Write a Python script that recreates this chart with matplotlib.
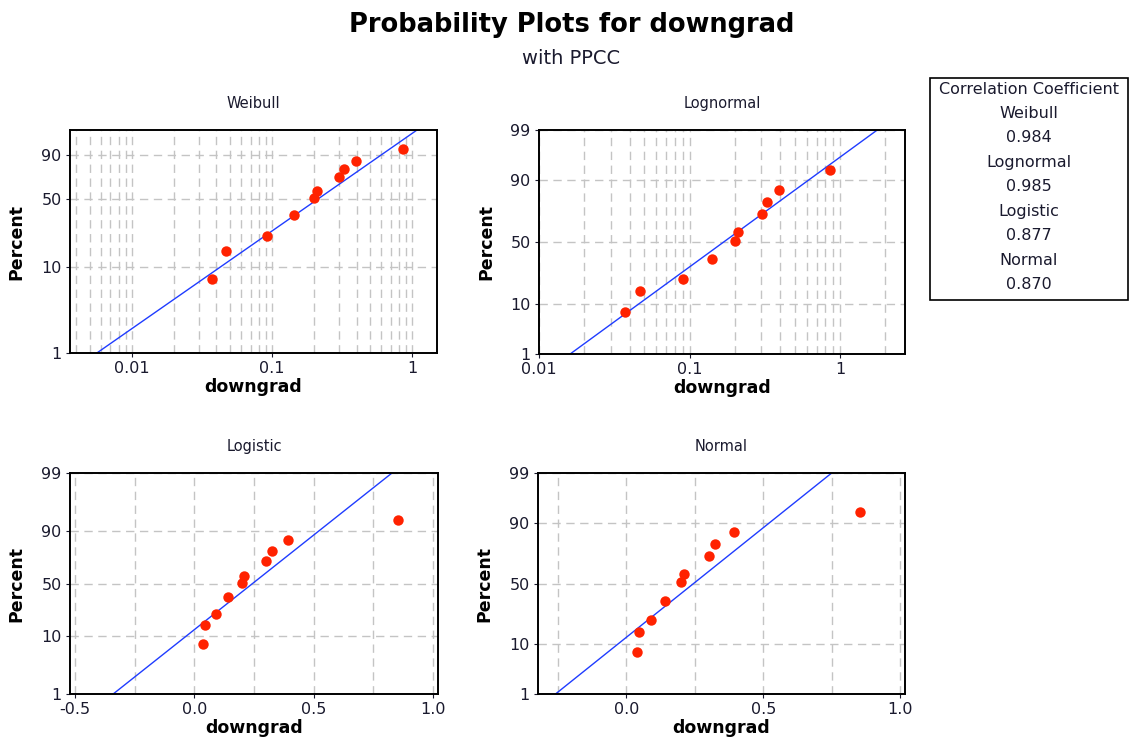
import numpy as np
import matplotlib.pyplot as plt
from matplotlib.patches import Rectangle
from matplotlib.ticker import FixedLocator, NullFormatter, FixedFormatter
from statistics import NormalDist

# data
downgrad = np.array([0.037, 0.047, 0.091, 0.142, 0.200, 0.209, 0.301, 0.325, 0.395, 0.855])
percent = np.array([7.4, 15.3, 22.0, 36.0, 51.0, 58.0, 71.7, 79.5, 86.0, 93.3])

# fitted lines: x at the two end percents
fit_pct = [1, 99]
weibull_fit = [0.0056, 1.08]
lognormal_fit = [0.0161, 1.766]
logistic_fit = [-0.340, 0.829]
normal_fit = [-0.259, 0.750]

dist_names = ['Weibull', 'Lognormal', 'Logistic', 'Normal']
ppcc = ['0.984', '0.985', '0.877', '0.870']

pct_ticks = [1, 10, 50, 90, 99]

_nd = NormalDist()


def _p(v):
    return np.clip(np.asarray(v, float) / 100.0, 1e-9, 1 - 1e-9)


def norm_fwd(v):
    return np.vectorize(_nd.inv_cdf, otypes=[float])(_p(v))


def norm_inv(z):
    return 100 * np.vectorize(_nd.cdf, otypes=[float])(np.asarray(z, float))


def logis_fwd(v):
    p = _p(v)
    return np.log(p / (1 - p))


def logis_inv(z):
    return 100 / (1 + np.exp(-np.asarray(z, float)))


def weib_fwd(v):
    p = _p(v)
    return np.log(-np.log(1 - p))


def weib_inv(z):
    return 100 * (1 - np.exp(-np.exp(np.asarray(z, float))))


txt = '#1a1a2e'
grid_c = '#c4c4c4'
W, H = 1130, 742
fig = plt.figure(figsize=(W / 100, H / 100), dpi=100)
plt.rcParams['font.family'] = 'DejaVu Sans'


def px_axes(l, t, r, b):
    return fig.add_axes([l / W, 1 - b / H, (r - l) / W, (b - t) / H])


def style(ax, name, funcs, ticks):
    ax.set_yscale('function', functions=funcs)
    ax.set_ylim(1, 99)
    ax.yaxis.set_major_locator(FixedLocator(ticks))
    ax.yaxis.set_major_formatter(FixedFormatter([str(t) for t in ticks]))
    ax.yaxis.set_minor_locator(FixedLocator([]))
    ax.grid(True, which='major', axis='y', color=grid_c, ls=(0, (6, 4)), lw=1)
    ax.grid(True, which='both', axis='x', color=grid_c, ls=(0, (6, 4)), lw=1)
    ax.tick_params(which='major', length=3, pad=3, labelsize=11.5, colors=txt)
    ax.tick_params(which='minor', length=0)
    for s in ax.spines.values():
        s.set_linewidth(1.4)
    ax.set_axisbelow(True)
    ax.text(0.5, 1.12, name, transform=ax.transAxes, ha='center', va='center',
            fontsize=10.5, color=txt)
    ax.text(-0.145, 0.5, 'Percent', transform=ax.transAxes, rotation=90,
            ha='center', va='center', fontsize=12.5, weight='bold')
    ax.set_xlabel('downgrad', fontsize=12.5, weight='bold', labelpad=1)


def draw(ax, fit):
    ax.plot(fit, fit_pct, color='#1f3cff', lw=1)
    ax.plot(downgrad, percent, 'o', color='#ff2200', ms=7.5, mec='none')


# Weibull
ax = px_axes(70, 130, 437, 353)
ax.set_xscale('log')
ax.set_xlim(0.0036, 1.5)
style(ax, 'Weibull', (weib_fwd, weib_inv), [1, 10, 50, 90])
ax.xaxis.set_major_locator(FixedLocator([0.01, 0.1, 1]))
ax.xaxis.set_major_formatter(FixedFormatter(['0.01', '0.1', '1']))
ax.xaxis.set_minor_formatter(NullFormatter())
draw(ax, weibull_fit)

# Lognormal
ax = px_axes(539, 130, 905, 354)
ax.set_xscale('log')
ax.set_xlim(0.01, 2.7)
style(ax, 'Lognormal', (norm_fwd, norm_inv), pct_ticks)
ax.xaxis.set_major_locator(FixedLocator([0.01, 0.1, 1]))
ax.xaxis.set_major_formatter(FixedFormatter(['0.01', '0.1', '1']))
ax.xaxis.set_minor_formatter(NullFormatter())
draw(ax, lognormal_fit)

# Logistic
ax = px_axes(70, 473, 438, 694)
ax.set_xlim(-0.521, 1.022)
style(ax, 'Logistic', (logis_fwd, logis_inv), pct_ticks)
ax.xaxis.set_major_locator(FixedLocator([-0.5, 0.0, 0.5, 1.0]))
ax.xaxis.set_major_formatter(FixedFormatter(['-0.5', '0.0', '0.5', '1.0']))
ax.xaxis.set_minor_locator(FixedLocator([-0.25, 0.25, 0.75]))
draw(ax, logistic_fit)

# Normal
ax = px_axes(538, 473, 905, 694)
ax.set_xlim(-0.323, 1.018)
style(ax, 'Normal', (norm_fwd, norm_inv), pct_ticks)
ax.xaxis.set_major_locator(FixedLocator([0.0, 0.5, 1.0]))
ax.xaxis.set_major_formatter(FixedFormatter(['0.0', '0.5', '1.0']))
ax.xaxis.set_minor_locator(FixedLocator([-0.25, 0.25, 0.75]))
draw(ax, normal_fit)

fig.text(572 / W, 1 - 25 / H, 'Probability Plots for downgrad', ha='center',
         va='center', fontsize=18.5, weight='bold')
fig.text(571 / W, 1 - 58 / H, 'with PPCC', ha='center', va='center',
         fontsize=14, color=txt)

# correlation coefficient box
fig.add_artist(Rectangle((930 / W, 1 - 300 / H), 198 / W, 222 / H,
                         transform=fig.transFigure, fill=False, lw=1.2,
                         ec='black'))
fig.text(1029 / W, 1 - 90 / H, 'Correlation Coefficient', ha='center',
         va='center', fontsize=11.5, color=txt)
for i, (n, c) in enumerate(zip(dist_names, ppcc)):
    y0 = 113 + i * 49.3
    fig.text(1029 / W, 1 - y0 / H, n, ha='center', va='center', fontsize=11.5,
             color=txt)
    fig.text(1029 / W, 1 - (y0 + 24) / H, c, ha='center', va='center',
             fontsize=11.5, color=txt)

fig.savefig('out.png', dpi=100)
